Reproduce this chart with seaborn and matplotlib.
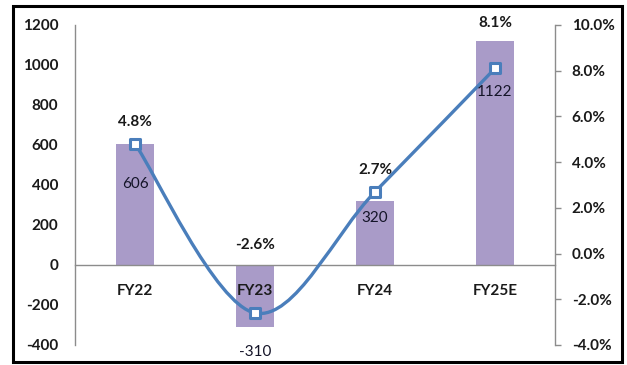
import numpy as np
import pandas as pd
import seaborn as sns
import matplotlib
matplotlib.use("Agg")
import matplotlib.pyplot as plt
from matplotlib.path import Path
from matplotlib.patches import PathPatch, Rectangle

# ---- data ----
categories = ["FY22", "FY23", "FY24", "FY25E"]
values = [606, -310, 320, 1122]
growth_pct = [4.8, -2.6, 2.7, 8.1]
left_ticks = [-400, -200, 0, 200, 400, 600, 800, 1000, 1200]
right_ticks = [-4.0, -2.0, 0.0, 2.0, 4.0, 6.0, 8.0, 10.0]

# label offsets (points) – styling only
bar_label_dy = [-29, -18, -12, -37]
pct_label_dy = [16, 49, 16, 33]

sns.set_style("white")
plt.rcParams["font.family"] = ["Lato", "DejaVu Sans"]
plt.rcParams["font.weight"] = "bold"

BAR = "#A99BC8"
LINE = "#4A7EBB"
GRAY = "#8C8C8C"
TXT = "#1A1A1A"

fig = plt.figure(figsize=(6.27, 3.65), dpi=100)
ax = fig.add_axes([75 / 627, 1 - 345 / 365, 480 / 627, 320 / 365])

df = pd.DataFrame({"cat": categories, "val": values})
sns.barplot(data=df, x="cat", y="val", color=BAR, width=0.31, ax=ax,
            saturation=1, edgecolor="none")
ax.set_axisbelow(False)
ax.set_xlim(-0.5, len(categories) - 0.5)
ax.set_ylim(left_ticks[0], left_ticks[-1])
ax.set_yticks(left_ticks)
ax.set_yticklabels([str(t) for t in left_ticks])
ax.set_xlabel("")
ax.set_ylabel("")

for s in ["top", "right"]:
    ax.spines[s].set_visible(False)
ax.spines["bottom"].set_position(("data", 0))
ax.spines["bottom"].set_color(GRAY)
ax.spines["bottom"].set_linewidth(1)
ax.spines["left"].set_color(GRAY)
ax.spines["left"].set_linewidth(1)
ax.tick_params(axis="y", length=0, pad=12, labelsize=11, labelcolor=TXT)
ax.tick_params(axis="x", length=0, pad=14, labelsize=11, labelcolor=TXT)
for lbl in ax.get_xticklabels() + ax.get_yticklabels():
    lbl.set_fontweight("bold")

# ---- secondary axis ----
ax2 = ax.twinx()
ax2.set_ylim(right_ticks[0], right_ticks[-1])
ax2.set_yticks(right_ticks)
ax2.set_yticklabels([f"{t:.1f}%" for t in right_ticks])
for s in ["top", "bottom", "left"]:
    ax2.spines[s].set_visible(False)
ax2.spines["right"].set_color(GRAY)
ax2.spines["right"].set_linewidth(1)
ax2.tick_params(axis="y", direction="out", length=4, width=1, color=GRAY,
                pad=8, labelsize=11, labelcolor=TXT)
for lbl in ax2.get_yticklabels():
    lbl.set_fontweight("bold")

# smoothed line (Catmull-Rom style bezier through the data points)
pts = np.column_stack([np.arange(len(growth_pct)), growth_pct]).astype(float)
verts = [tuple(pts[0])]
codes = [Path.MOVETO]
n = len(pts)
for i in range(n - 1):
    p0 = pts[i - 1] if i > 0 else pts[i]
    p1 = pts[i]
    p2 = pts[i + 1]
    p3 = pts[i + 2] if i + 2 < n else pts[i + 1]
    c1 = p1 + (p2 - p0) / 6.0
    c2 = p2 - (p3 - p1) / 6.0
    verts += [tuple(c1), tuple(c2), tuple(p2)]
    codes += [Path.CURVE4] * 3
ax2.add_patch(PathPatch(Path(verts, codes), facecolor="none", edgecolor=LINE,
                        lw=2.4, capstyle="round", joinstyle="round", zorder=3))

dfl = pd.DataFrame({"x": np.arange(len(categories)), "pct": growth_pct})
sns.scatterplot(data=dfl, x="x", y="pct", marker="s", s=50, color="white",
                edgecolor=LINE, linewidth=2.2, ax=ax2, zorder=4)
ax2.set_xlabel("")
ax2.set_ylabel("")
ax2.set_xlim(-0.5, len(categories) - 0.5)

# data labels
for i, (v, dy) in enumerate(zip(values, bar_label_dy)):
    ax2.annotate(str(v), xy=(i, v), xycoords=ax.transData,
                 xytext=(0, dy), textcoords="offset points",
                 ha="center", va="center", fontsize=11, fontweight="normal",
                 color="#141428", zorder=5, annotation_clip=False)
for i, (p, dy) in enumerate(zip(growth_pct, pct_label_dy)):
    ax2.annotate(f"{p:.1f}%", xy=(i, p), xytext=(0, dy),
                 textcoords="offset points", ha="center", va="center",
                 fontsize=11, fontweight="bold", color=TXT, zorder=5,
                 annotation_clip=False)

# figure border
fig.patches.append(Rectangle((13 / 627, 3 / 365), 609 / 627, 356 / 365,
                             transform=fig.transFigure, fill=False,
                             edgecolor="black", lw=2.2))

fig.savefig("out.png", dpi=100)
